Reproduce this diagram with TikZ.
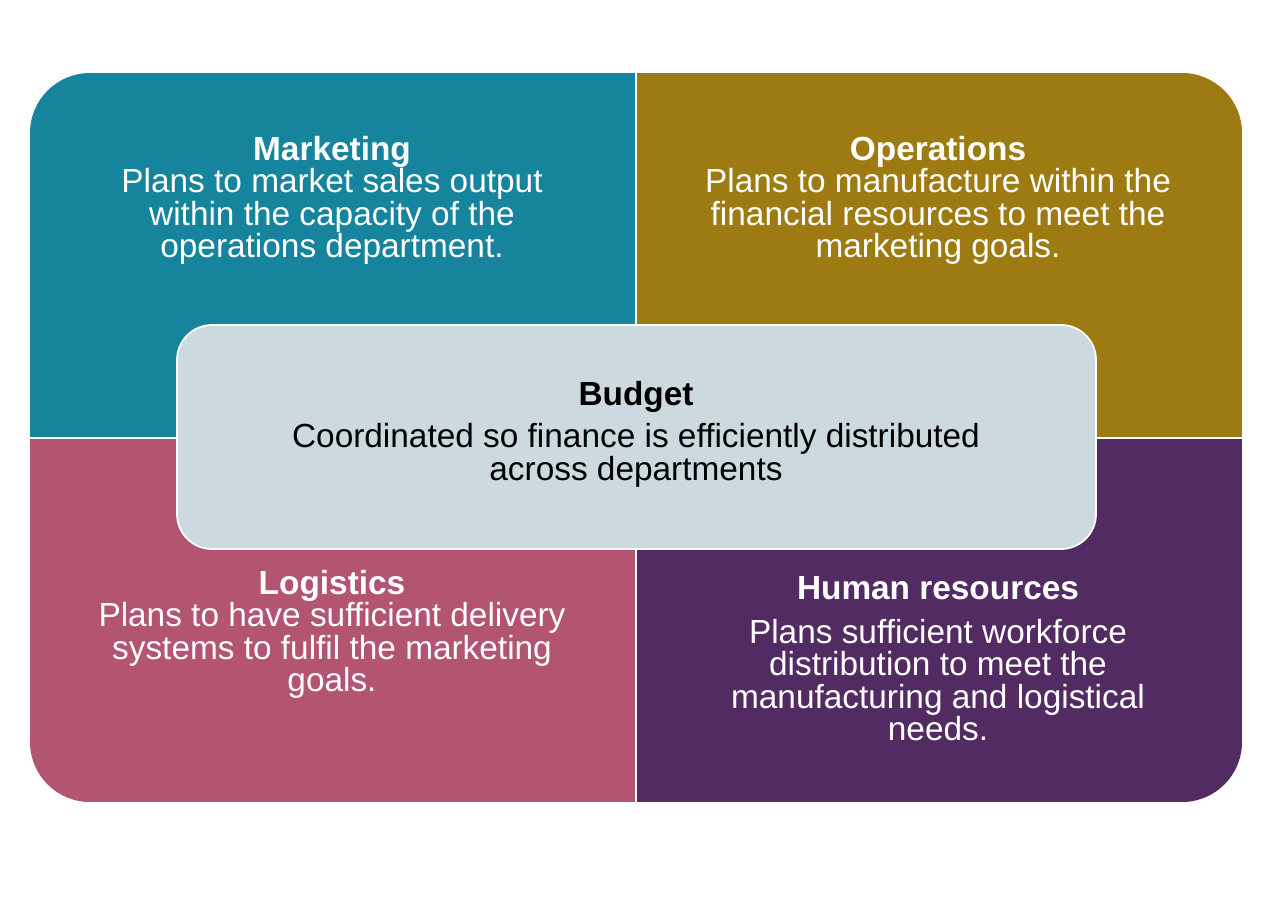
\documentclass[tikz,border=0pt]{standalone}
\usepackage{fontspec}
\setmainfont{Liberation Sans}
\definecolor{cteal}{HTML}{16849C}
\definecolor{cgold}{HTML}{9E7B12}
\definecolor{cpink}{HTML}{B35470}
\definecolor{cpurp}{HTML}{522B63}
\definecolor{cbud}{HTML}{CCD9DF}
\begin{document}
\begin{tikzpicture}[x=0.02cm,y=-0.02cm,
  txt/.style={align=center,font=\fontsize{19}{18.5}\selectfont,anchor=north},
  wtxt/.style={txt,text=white}]
\useasboundingbox (0,0) rectangle (1288,900);
\begin{scope}
\clip[rounded corners=1.2cm] (30,73) rectangle (1242,802);
\fill[cteal] (30,73) rectangle (636,438);
\fill[cgold] (636,73) rectangle (1242,438);
\fill[cpink] (30,438) rectangle (636,802);
\fill[cpurp] (636,438) rectangle (1242,802);
\draw[white,line width=1pt] (636,73) -- (636,802) (30,438) -- (1242,438);
\end{scope}
\node[wtxt] (mk) at (332,130) {\textbf{Marketing}\\Plans to market sales output\\within the capacity of the\\operations department.};
\node[wtxt] (op) at (938,130) {\textbf{Operations}\\Plans to manufacture within the\\financial resources to meet the\\marketing goals.};
\node[wtxt] (lg) at (332,564) {\textbf{Logistics}\\Plans to have sufficient delivery\\systems to fulfil the marketing\\goals.};
\node[wtxt] (hr) at (938,570) {\textbf{Human resources}\\[0.35em]Plans sufficient workforce\\distribution to meet the\\manufacturing and logistical\\needs.};
\node[draw=white,line width=1pt,fill=cbud,rounded corners=0.7cm,minimum width=919*0.02cm,minimum height=224*0.02cm] (bd) at (636.5,437) {};
\node[txt] (bt) at (636,375) {\textbf{Budget}\\[0.3em]Coordinated so finance is efficiently distributed\\across departments};
\end{tikzpicture}
\end{document}
